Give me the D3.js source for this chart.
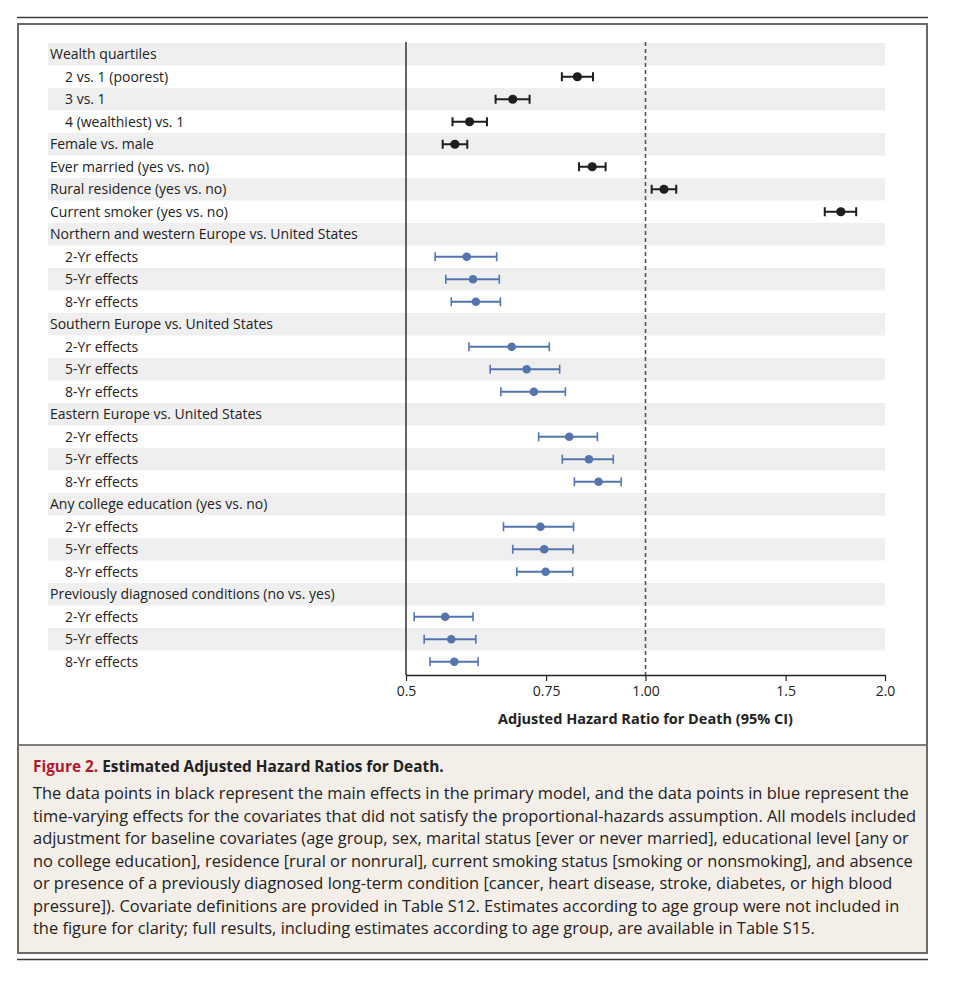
<!DOCTYPE html>
<html>
<head>
<meta charset="utf-8">
<script src="https://cdn.jsdelivr.net/npm/d3@7"></script>
<style>
  body { margin: 0; background: #fff; }
  svg { display: block; }
</style>
</head>
<body>
<svg id="chart" width="956" height="1000"></svg>
<script>
// rows of the forest plot, top to bottom
var labels = [
  "Wealth quartiles", "2 vs. 1 (poorest)", "3 vs. 1", "4 (wealthiest) vs. 1",
  "Female vs. male", "Ever married (yes vs. no)", "Rural residence (yes vs. no)", "Current smoker (yes vs. no)",
  "Northern and western Europe vs. United States", "2-Yr effects", "5-Yr effects", "8-Yr effects",
  "Southern Europe vs. United States", "2-Yr effects", "5-Yr effects", "8-Yr effects",
  "Eastern Europe vs. United States", "2-Yr effects", "5-Yr effects", "8-Yr effects",
  "Any college education (yes vs. no)", "2-Yr effects", "5-Yr effects", "8-Yr effects",
  "Previously diagnosed conditions (no vs. yes)", "2-Yr effects", "5-Yr effects", "8-Yr effects"
];
var indent = [0,1,1,1, 0,0,0,0, 0,1,1,1, 0,1,1,1, 0,1,1,1, 0,1,1,1, 0,1,1,1];
// "main" = primary model (black), "time" = time-varying effects (blue), "" = header row
var effect = ["","main","main","main", "main","main","main","main",
  "","time","time","time", "","time","time","time", "","time","time","time",
  "","time","time","time", "","time","time","time"];
var hr = [null,0.821,0.681,0.601, 0.576,0.857,1.055,1.76,
  null,0.596,0.607,0.612, null,0.679,0.709,0.724, null,0.802,0.849,0.873,
  null,0.738,0.746,0.749, null,0.560,0.570,0.575];
var lo = [null,0.785,0.648,0.572, 0.556,0.825,1.018,1.68,
  null,0.544,0.561,0.570, null,0.600,0.638,0.658, null,0.734,0.786,0.814,
  null,0.663,0.681,0.689, null,0.512,0.527,0.536];
var hi = [null,0.859,0.715,0.632, 0.597,0.891,1.093,1.84,
  null,0.650,0.655,0.657, null,0.757,0.780,0.793, null,0.870,0.911,0.932,
  null,0.812,0.811,0.810, null,0.607,0.612,0.616];

var ticks = [0.5, 0.75, 1.0, 1.5, 2.0];
var tickLabels = ["0.5", "0.75", "1.00", "1.5", "2.0"];

var captionTitle = "Estimated Adjusted Hazard Ratios for Death.";
var captionLines = [
  "The data points in black represent the main effects in the primary model, and the data points in blue represent the",
  "time-varying effects for the covariates that did not satisfy the proportional-hazards assumption. All models included",
  "adjustment for baseline covariates (age group, sex, marital status [ever or never married], educational level [any or",
  "no college education], residence [rural or nonrural], current smoking status [smoking or nonsmoking], and absence",
  "or presence of a previously diagnosed long-term condition [cancer, heart disease, stroke, diabetes, or high blood",
  "pressure]). Covariate definitions are provided in Table S12. Estimates according to age group were not included in",
  "the figure for clarity; full results, including estimates according to age group, are available in Table S15."
];

var colors = { main: "#1e1e1e", time: "#5474ad" };
var labelFont = "'Open Sans', 'DejaVu Sans', sans-serif";
var capFont = "'Open Sans', 'Liberation Sans', sans-serif";

var svg = d3.select("#chart");

function textWidth(family, weight, size, str) {
  var t = svg.append("text").attr("font-family", family).attr("font-weight", weight)
    .attr("font-size", size).text(str);
  var w = t.node().getComputedTextLength();
  t.remove();
  return w;
}

var labelSize = 13 * 308 / textWidth(labelFont, "normal", 13, labels[8]);
// caption font is condensed in the original: keep height, squeeze width
var capSize = 16.5;
var capSquash = 884 / textWidth(capFont, "normal", capSize, captionLines[1]);
var capTitleSize = 16.5;
var titleSquash = 411 / textWidth(capFont, "bold", capTitleSize, "Figure 2. " + captionTitle);

// frame
svg.append("line").attr("x1", 17).attr("x2", 928).attr("y1", 17.5).attr("y2", 17.5)
  .attr("stroke", "#3a3a3a").attr("stroke-width", 1.6);
svg.append("line").attr("x1", 17).attr("x2", 928).attr("y1", 959.5).attr("y2", 959.5)
  .attr("stroke", "#3a3a3a").attr("stroke-width", 1.6);
svg.append("rect").attr("x", 18).attr("y", 745).attr("width", 909).attr("height", 208)
  .attr("fill", "#f4eee8");
svg.append("line").attr("x1", 18).attr("x2", 927).attr("y1", 745).attr("y2", 745)
  .attr("stroke", "#555").attr("stroke-width", 1.5);
svg.append("rect").attr("x", 18).attr("y", 24).attr("width", 909).attr("height", 929)
  .attr("fill", "none").attr("stroke", "#6a6a6a").attr("stroke-width", 2);

var x = d3.scaleLog().domain([0.5, 2]).range([406, 885]);
var y = d3.scaleBand().domain(d3.range(labels.length)).range([43, 43 + labels.length * 22.5]);
var yc = function(i) { return y(i) + y.bandwidth() / 2; };

// stripes
svg.append("g").selectAll("rect")
  .data(d3.range(labels.length).filter(function(i) { return i % 2 === 0; }))
  .enter().append("rect")
  .attr("x", 48).attr("width", 885 - 48)
  .attr("y", function(i) { return y(i); })
  .attr("height", y.bandwidth())
  .attr("fill", "#efefef");

// row labels
svg.append("g").selectAll("text")
  .data(labels)
  .enter().append("text")
  .attr("x", function(d, i) { return indent[i] ? 65 : 50; })
  .attr("y", function(d, i) { return yc(i) + labelSize * 0.36; })
  .attr("font-family", labelFont)
  .attr("font-size", labelSize)
  .attr("fill", "#222")
  .text(function(d) { return d; });

var axisY = 675;

// reference lines
svg.append("line").attr("x1", x(0.5)).attr("x2", x(0.5)).attr("y1", 42).attr("y2", axisY)
  .attr("stroke", "#222").attr("stroke-width", 1.4);
svg.append("line").attr("x1", x(1)).attr("x2", x(1)).attr("y1", 42).attr("y2", axisY)
  .attr("stroke", "#555").attr("stroke-width", 1.6).attr("stroke-dasharray", "4,3");

// x axis
var ax = svg.append("g")
  .attr("transform", "translate(0," + axisY + ")")
  .call(d3.axisBottom(x).tickValues(ticks)
    .tickFormat(function(d, i) { return tickLabels[i]; })
    .tickSize(6).tickSizeOuter(0).tickPadding(5));
ax.select(".domain").attr("stroke", "#222").attr("stroke-width", 1.4);
ax.selectAll(".tick line").attr("stroke", "#222").attr("stroke-width", 1.2);
ax.selectAll(".tick text").attr("font-family", labelFont).attr("font-size", labelSize)
  .attr("fill", "#222");

svg.append("text").attr("x", x(1)).attr("y", 724).attr("text-anchor", "middle")
  .attr("font-family", labelFont).attr("font-weight", "bold").attr("font-size", labelSize + 0.5)
  .attr("fill", "#222")
  .text("Adjusted Hazard Ratio for Death (95% CI)");

// estimates with 95% CI
var rows = d3.range(labels.length).filter(function(i) { return hr[i] !== null; });
var g = svg.append("g");
var eb = g.selectAll("g.row").data(rows).enter().append("g").attr("class", "row");
eb.append("line")
  .attr("x1", function(i) { return x(lo[i]); })
  .attr("x2", function(i) { return x(hi[i]); })
  .attr("y1", yc).attr("y2", yc)
  .attr("stroke", function(i) { return colors[effect[i]]; })
  .attr("stroke-width", function(i) { return effect[i] === "main" ? 2 : 1.8; });
[lo, hi].forEach(function(arr) {
  eb.append("line")
    .attr("x1", function(i) { return x(arr[i]); })
    .attr("x2", function(i) { return x(arr[i]); })
    .attr("y1", function(i) { return yc(i) - 4.5; })
    .attr("y2", function(i) { return yc(i) + 4.5; })
    .attr("stroke", function(i) { return colors[effect[i]]; })
    .attr("stroke-width", function(i) { return effect[i] === "main" ? 2 : 1.6; });
});
eb.append("circle")
  .attr("cx", function(i) { return x(hr[i]); })
  .attr("cy", yc)
  .attr("r", function(i) { return effect[i] === "main" ? 4.6 : 4.3; })
  .attr("fill", function(i) { return colors[effect[i]]; });

// caption, squeezed horizontally to the condensed width of the original
var ct = svg.append("text")
  .attr("transform", "translate(33,772) scale(" + titleSquash + ",1)")
  .attr("font-family", capFont).attr("font-weight", "bold").attr("font-size", capTitleSize)
  .attr("fill", "#222");
ct.append("tspan").attr("fill", "#b3172f").text("Figure 2. ");
ct.append("tspan").text(captionTitle);

svg.append("g").selectAll("text")
  .data(captionLines)
  .enter().append("text")
  .attr("transform", function(d, i) {
    return "translate(33," + (799 + i * 22.5) + ") scale(" + capSquash + ",1)";
  })
  .attr("font-family", capFont)
  .attr("font-size", capSize)
  .attr("fill", "#222")
  .text(function(d) { return d; });
</script>
</body>
</html>
